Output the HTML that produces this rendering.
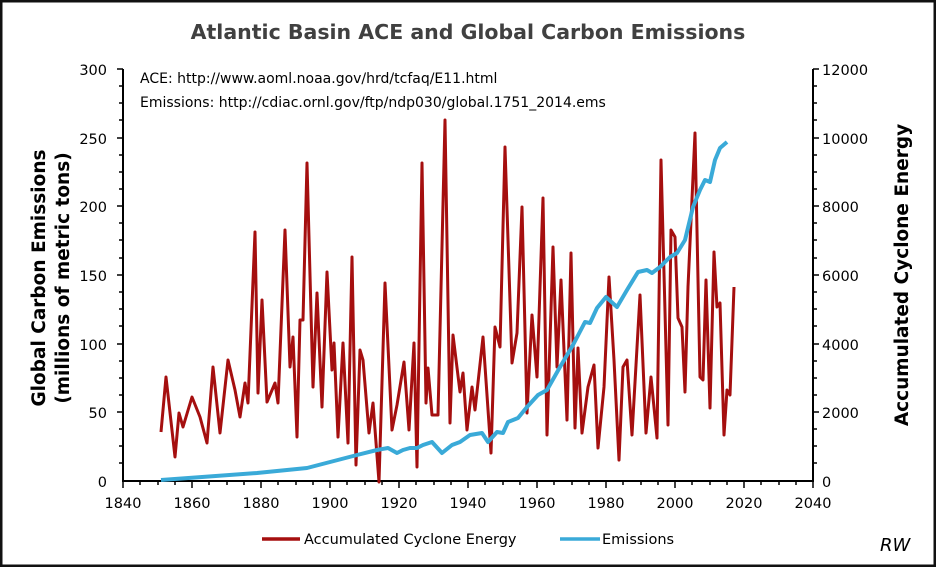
<!DOCTYPE html><html><head><style>body{margin:0;background:#fff}svg{display:block}text{font-family:"DejaVu Sans","Liberation Sans",sans-serif}</style></head><body>
<svg width="936" height="567" viewBox="0 0 936 567" xmlns="http://www.w3.org/2000/svg">
<rect x="1" y="1" width="934" height="565" fill="#fff" stroke="#111" stroke-width="3"/>
<text x="468" y="39" text-anchor="middle" font-size="20.5" font-weight="bold" fill="#404040">Atlantic Basin ACE and Global Carbon Emissions</text>
<text x="140" y="83" font-size="14" fill="#000">ACE: http://www.aoml.noaa.gov/hrd/tcfaq/E11.html</text>
<text x="140" y="107" font-size="14" fill="#000">Emissions: http://cdiac.ornl.gov/ftp/ndp030/global.1751_2014.ems</text>
<g stroke="#000" stroke-width="2" fill="none">
<line x1="123" y1="69" x2="123" y2="482"/><line x1="813" y1="69" x2="813" y2="482"/><line x1="122" y1="481" x2="814" y2="481"/>
</g>
<g stroke="#000" stroke-width="1.5">
<path d="M117 69h6M117 138h6M117 206h6M117 275h6M117 344h6M117 412h6M119 86h4M119 103h4M119 120h4M119 155h4M119 172h4M119 189h4M119 223h4M119 240h4M119 258h4M119 292h4M119 309h4M119 326h4M119 361h4M119 378h4M119 395h4M119 429h4M119 446h4M119 463h4"/>
<path d="M813 69h6M813 138h6M813 206h6M813 275h6M813 344h6M813 412h6M813 86h4M813 103h4M813 120h4M813 155h4M813 172h4M813 189h4M813 223h4M813 240h4M813 258h4M813 292h4M813 309h4M813 326h4M813 361h4M813 378h4M813 395h4M813 429h4M813 446h4M813 463h4"/>
<path d="M123 481v7M192 481v7M261 481v7M330 481v7M399 481v7M468 481v7M537 481v7M606 481v7M675 481v7M744 481v7M813 481v7M140 481v4M158 481v4M175 481v4M209 481v4M227 481v4M244 481v4M278 481v4M296 481v4M313 481v4M347 481v4M365 481v4M382 481v4M416 481v4M434 481v4M451 481v4M485 481v4M503 481v4M520 481v4M554 481v4M572 481v4M589 481v4M623 481v4M641 481v4M658 481v4M692 481v4M710 481v4M727 481v4M761 481v4M779 481v4M796 481v4"/>
</g>
<g font-size="14.5" text-anchor="end" fill="#000">
<text x="107" y="75">300</text><text x="107" y="144">250</text><text x="107" y="212">200</text><text x="107" y="281">150</text><text x="107" y="350">100</text><text x="107" y="418">50</text><text x="107" y="487">0</text>
</g>
<g font-size="14.5" fill="#000">
<text x="822" y="75">12000</text><text x="822" y="144">10000</text><text x="822" y="212">8000</text><text x="822" y="281">6000</text><text x="822" y="350">4000</text><text x="822" y="418">2000</text><text x="822" y="487">0</text>
</g>
<g font-size="14.5" text-anchor="middle" fill="#000">
<text x="123" y="508">1840</text><text x="192" y="508">1860</text><text x="261" y="508">1880</text><text x="330" y="508">1900</text><text x="399" y="508">1920</text><text x="468" y="508">1940</text><text x="537" y="508">1960</text><text x="606" y="508">1980</text><text x="675" y="508">2000</text><text x="744" y="508">2020</text><text x="813" y="508">2040</text>
</g>
<text transform="translate(45,278) rotate(-90)" text-anchor="middle" font-size="18.5" font-weight="bold">Global Carbon Emissions</text>
<text transform="translate(69,278) rotate(-90)" text-anchor="middle" font-size="18.5" font-weight="bold">(millions of metric tons)</text>
<text transform="translate(908,275) rotate(-90)" text-anchor="middle" font-size="18.5" font-weight="bold">Accumulated Cyclone Energy</text>
<polyline fill="none" stroke="#a50f0f" stroke-width="3" stroke-linejoin="round" points="161,432 166,377 175,457 179,413 183,427 192,397 200,417 207,443 213,367 220,433 228,360 235,390 240,417 245,383 248,403 255,232 258,393 262,300 267,402 275,383 278,403 285,230 290,367 293,337 297,437 300,320 303,320 307,163 313,387 317,293 322,407 327,272 332,370 334,343 338,437 343,343 348,443 352,257 356,465 360,350 363,360 369,433 373,403 379,482 385,283 392,430 397,405 404,362 409,430 414,343 417,467 422,163 426,403 428,368 432,415 438,415 445,120 450,423 453,335 460,392 463,373 467,430 472,387 475,410 483,337 491,453 495,327 500,347 505,147 512,363 517,333 522,207 527,413 532,315 537,377 543,198 547,435 553,247 557,367 561,280 567,420 571,253 575,428 578,348 582,433 588,387 594,365 598,448 604,387 609,277 614,360 619,460 623,367 627,360 632,435 640,295 646,433 651,377 657,438 661,160 668,425 671,230 675,237 678,318 682,327 685,392 688,287 695,133 700,377 703,380 706,280 710,408 714,252 717,307 720,303 724,435 727,390 730,395 734,287"/>
<polyline fill="none" stroke="#3aaad8" stroke-width="4" stroke-linejoin="round" points="161,480 257,473 307,468 357,455 377,450 388,448 397,453 403,450 410,448 417,448 423,445 432,442 442,453 452,445 460,442 470,435 482,433 488,442 497,432 503,433 508,422 518,418 527,407 538,395 547,390 560,367 573,345 585,322 590,323 597,308 606,297 617,307 627,290 638,272 647,270 652,273 660,267 670,257 677,253 685,240 693,207 700,190 705,180 710,182 715,160 720,148 727,142"/>
<line x1="262" y1="539" x2="300" y2="539" stroke="#a50f0f" stroke-width="3.5"/>
<text x="304" y="544" font-size="14.5">Accumulated Cyclone Energy</text>
<line x1="560" y1="539" x2="600" y2="539" stroke="#3aaad8" stroke-width="3.5"/>
<text x="602" y="544" font-size="14.5">Emissions</text>
<text x="880" y="551" font-size="18" font-style="italic" font-family="Liberation Serif,serif">RW</text>
</svg>
</body></html>
